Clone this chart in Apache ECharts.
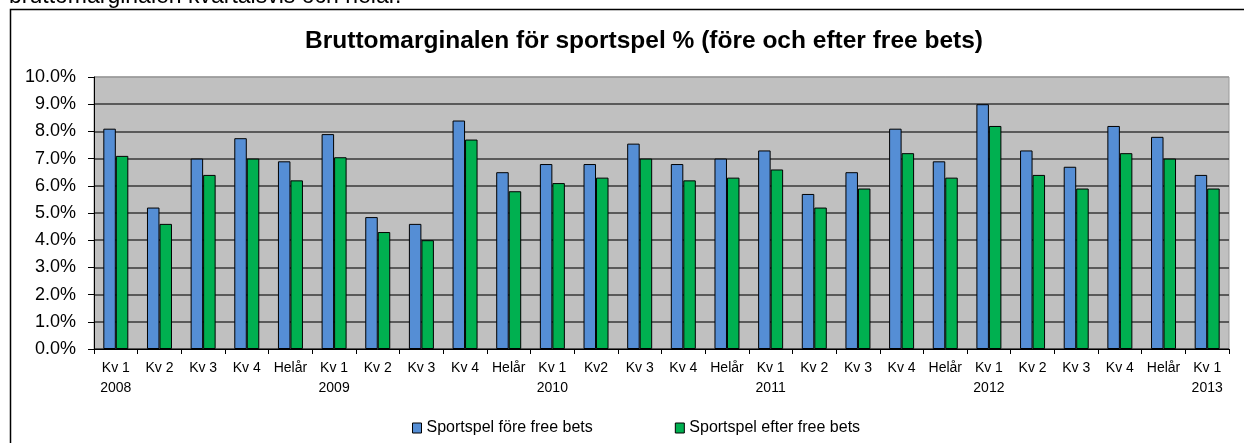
<!DOCTYPE html>
<html>
<head>
<meta charset="utf-8">
<script src="https://cdn.jsdelivr.net/npm/echarts@6/dist/echarts.min.js"></script>
<style>
html,body{margin:0;padding:0;background:#fff;}
#chart{width:1244px;height:443px;}
</style>
</head>
<body>
<div id="chart"></div>
<script>
const categories = [
  'Kv 1\n2008','Kv 2','Kv 3','Kv 4','Helår',
  'Kv 1\n2009','Kv 2','Kv 3','Kv 4','Helår',
  'Kv 1\n2010','Kv2','Kv 3','Kv 4','Helår',
  'Kv 1\n2011','Kv 2','Kv 3','Kv 4','Helår',
  'Kv 1\n2012','Kv 2','Kv 3','Kv 4','Helår',
  'Kv 1\n2013'
];
const foreFreeBets = [8.1,5.2,7.0,7.75,6.9, 7.9,4.85,4.6,8.4,6.5, 6.8,6.8,7.55,6.8,7.0, 7.3,5.7,6.5,8.1,6.9, 9.0,7.3,6.7,8.2,7.8, 6.4];
const efterFreeBets = [7.1,4.6,6.4,7.0,6.2, 7.05,4.3,4.0,7.7,5.8, 6.1,6.3,7.0,6.2,6.3, 6.6,5.2,5.9,7.2,6.3, 8.2,6.4,5.9,7.2,7.0, 5.9];
const seriesNames = ['Sportspel före free bets','Sportspel efter free bets'];
const titleText = 'Bruttomarginalen för sportspel % (före och efter free bets)';
const topText = 'bruttomarginalen kvartalsvis och helår.';

const FONT = '"Liberation Sans", Arial, sans-serif';
const gridColors = ['#383838','#383838','#383838','#383838','#383838','#383838','#383838','#383838','#383838','#383838','#9a9a9a'];

const chart = echarts.init(document.getElementById('chart'), null, {renderer:'canvas'});
chart.setOption({
  animation:false,
  backgroundColor:'#fff',
  textStyle:{fontFamily:FONT},
  title:{
    text:titleText,
    left:639,
    textAlign:'center',
    top:24,
    textStyle:{fontFamily:FONT,fontSize:24.5,fontWeight:'bold',color:'#000'}
  },
  graphic:[
    {type:'rect',shape:{x:10.5,y:9.5,width:1400,height:600},style:{fill:null,stroke:'#000',lineWidth:1.5},silent:true,z:-1},
    {type:'text',left:9,top:-15,style:{text:topText,font:'23px "Liberation Sans", Arial, sans-serif',fill:'#000'},silent:true}
  ],
  legend:{
    left:407,
    top:415,
    itemWidth:9,
    itemHeight:10,
    itemGap:82,
    icon:'rect',
    textStyle:{fontFamily:FONT,fontSize:16,color:'#000'},
    itemStyle:{borderColor:'#000',borderWidth:1},
    data:seriesNames
  },
  grid:{
    left:94,right:15,top:77,bottom:94,
    show:true,backgroundColor:'#c0c0c0',borderColor:'#9a9a9a',borderWidth:1
  },
  xAxis:{
    type:'category',
    data:categories,
    axisLine:{lineStyle:{color:'#000',width:1}},
    axisTick:{show:true,length:5,lineStyle:{color:'#000'}},
    axisLabel:{fontFamily:FONT,fontSize:14,color:'#000',margin:9,lineHeight:20,interval:0}
  },
  yAxis:{
    type:'value',
    min:0,max:10,interval:1,
    axisLine:{show:true,lineStyle:{color:'#000',width:1}},
    axisTick:{show:true,length:6,lineStyle:{color:'#000'}},
    axisLabel:{fontFamily:FONT,fontSize:18,color:'#000',margin:18,formatter:v=>v.toFixed(1)+'%'},
    splitLine:{show:true,lineStyle:{color:gridColors,width:1.5}}
  },
  series:[
    {name:seriesNames[0],type:'bar',data:foreFreeBets,barWidth:12.5,barGap:'0%',
     itemStyle:{color:'#558ed5',borderColor:'#000',borderWidth:1}},
    {name:seriesNames[1],type:'bar',data:efterFreeBets,barWidth:12.5,barGap:'0%',
     itemStyle:{color:'#00b050',borderColor:'#000',borderWidth:1}}
  ]
});
</script>
</body>
</html>
